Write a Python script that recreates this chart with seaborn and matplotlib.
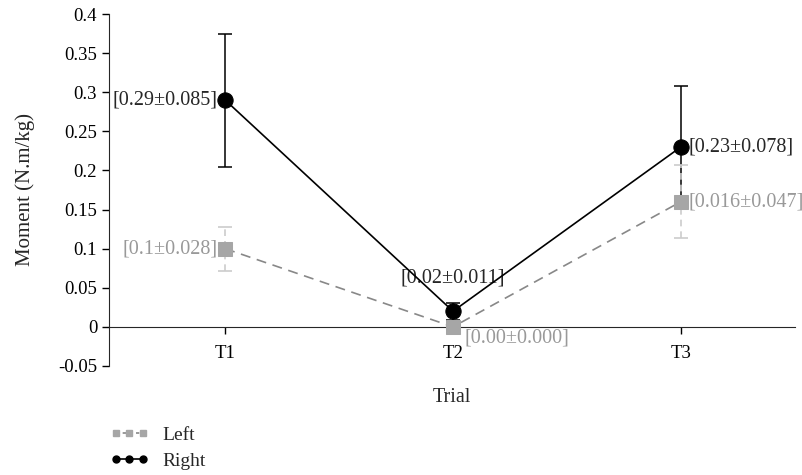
import matplotlib
matplotlib.use("Agg")
import pandas as pd
import matplotlib.pyplot as plt
import seaborn as sns
from matplotlib.lines import Line2D

# Data
trials = ["T1", "T2", "T3"]
left_mean = [0.10, 0.00, 0.16]
left_sd = [0.028, 0.000, 0.047]
right_mean = [0.29, 0.02, 0.23]
right_sd = [0.085, 0.011, 0.078]
left_labels = ["[0.1±0.028]", "[0.00±0.000]", "[0.016±0.047]"]
right_labels = ["[0.29±0.085]", "[0.02±0.011]", "[0.23±0.078]"]
yticks = [-0.05, 0, 0.05, 0.1, 0.15, 0.2, 0.25, 0.3, 0.35, 0.4]
ytick_labels = ["-0.05", "0", "0.05", "0.1", "0.15", "0.2", "0.25", "0.3", "0.35", "0.4"]

df = pd.DataFrame({
    "Trial": trials * 2,
    "Moment": left_mean + right_mean,
    "Side": ["Left"] * 3 + ["Right"] * 3,
})

sns.set_style("ticks")
plt.rcParams["font.family"] = ["Liberation Serif", "DejaVu Serif"]
plt.rcParams["font.size"] = 14

fig = plt.figure(figsize=(8.03, 4.75), dpi=100)
ax = fig.add_axes([0.1357, 0.2295, 0.854, 0.741])

x = list(range(len(trials)))

# error bars (drawn first so markers sit on top)
eb = ax.errorbar(x, left_mean, yerr=left_sd, fmt="none", ecolor="#cccccc",
                 elinewidth=1.2, capsize=5, capthick=1.2, zorder=2)
eb[2][0].set_linestyle((0, (4, 3)))
ax.errorbar(x, right_mean, yerr=right_sd, fmt="none", ecolor="black",
            elinewidth=1.1, capsize=5, capthick=1.1, zorder=1)

left = df[df["Side"] == "Left"]
right = df[df["Side"] == "Right"]
sns.lineplot(data=left, x="Trial", y="Moment", ax=ax, color="#888888",
             linestyle=(0, (6, 4)), linewidth=1.2, marker="s", markersize=10,
             markerfacecolor="#a6a6a6", markeredgecolor="#a6a6a6", zorder=3)
sns.lineplot(data=right, x="Trial", y="Moment", ax=ax, color="black",
             linewidth=1.2, marker="o", markersize=11,
             markerfacecolor="black", markeredgecolor="black", zorder=4)

# value labels
fs = 14.5
gray = "#999999"
ax.text(x[0] - 0.035, right_mean[0], right_labels[0], ha="right", va="center", fontsize=fs)
ax.text(x[0] - 0.035, left_mean[0], left_labels[0], ha="right", va="center", fontsize=fs, color=gray)
ax.text(x[1], 0.062, right_labels[1], ha="center", va="center", fontsize=fs)
ax.text(x[1] + 0.05, -0.014, left_labels[1], ha="left", va="center", fontsize=fs, color=gray)
ax.text(x[2] + 0.035, right_mean[2], right_labels[2], ha="left", va="center", fontsize=fs)
ax.text(x[2] + 0.035, left_mean[2], left_labels[2], ha="left", va="center", fontsize=fs, color=gray)

ax.set_xlim(-0.51, 2.5)
ax.set_ylim(-0.05, 0.4)
ax.set_yticks(yticks)
ax.set_yticklabels(ytick_labels)
ax.set_xticks(x)
ax.set_xticklabels(trials)
ax.spines["bottom"].set_position(("data", 0))
ax.spines["top"].set_visible(False)
ax.spines["right"].set_visible(False)
ax.spines["left"].set_bounds(-0.05, 0.4)
ax.tick_params(direction="out", length=5, width=1, colors="black", labelsize=13.5)
ax.tick_params(axis="x", pad=8)
ax.set_xlabel("Trial", fontsize=14.5)
ax.xaxis.set_label_coords(0.5, -0.062)
ax.set_ylabel("Moment (N.m/kg)", fontsize=15)
ax.yaxis.set_label_coords(-0.108, 0.5)
if ax.get_legend():
    ax.get_legend().remove()

handles = [
    Line2D([0], [0], color="#888888", linestyle=(0, (2, 2)), linewidth=1.2,
           marker="s", markersize=5, markerfacecolor="#a6a6a6", markeredgecolor="#a6a6a6"),
    Line2D([0], [0], color="black", linewidth=1.2, marker="o", markersize=5),
]
fig.legend(handles, ["Left", "Right"], loc="upper left", bbox_to_anchor=(0.115, 0.14),
           frameon=False, numpoints=3, handlelength=2.0, fontsize=14,
           labelspacing=0.45, handletextpad=0.7)

fig.savefig("out.png", dpi=100)
